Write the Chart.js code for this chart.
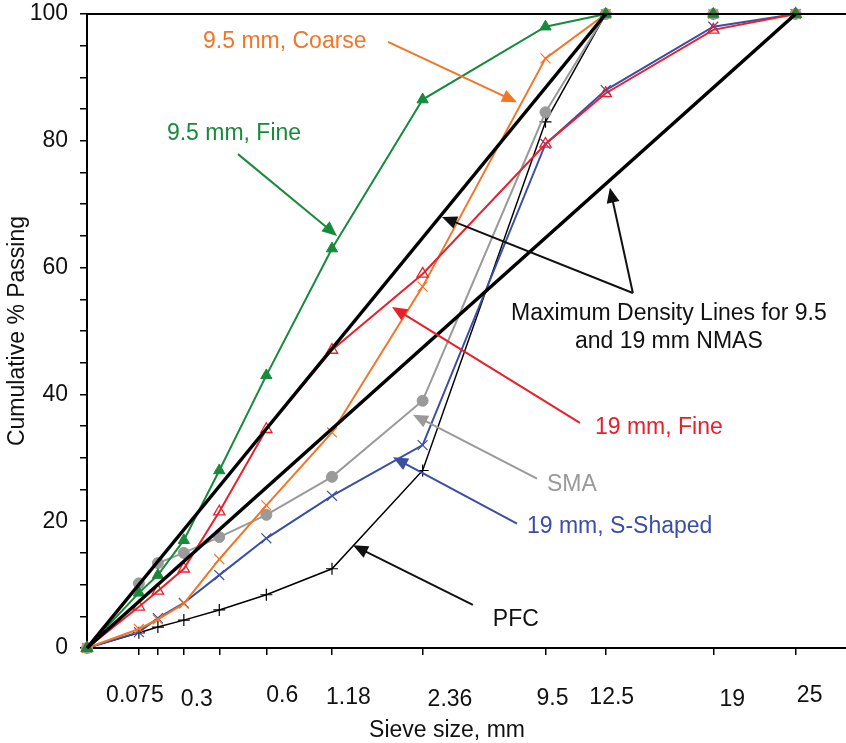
<!DOCTYPE html>
<html>
<head>
<meta charset="utf-8">
<script src="https://cdn.jsdelivr.net/npm/chart.js@4/dist/chart.umd.min.js"></script>
<style>
  html, body { margin: 0; padding: 0; background: #fff; }
  #wrap { width: 846px; height: 743px; }
</style>
</head>
<body>
<div id="wrap"><canvas id="gradation"></canvas></div>
<script>
// sieve sizes (mm) and % passing for each gradation
const sieveMm = [0, 0.075, 0.15, 0.3, 0.6, 1.18, 2.36, 4.75, 9.5, 12.5, 19, 25];
const fine95 = [0, 8.7, 11.5, 17, 28, 43, 63, 86.5, 98, 100, 100, 100];
const coarse95 = [0, 3, 4.5, 7, 14, 22.5, 34, 57, 93, 100, 100, 100];
const fine19 = [0, 6.5, 9, 12.5, 21.5, 34.5, 47, 59, 79.5, 87.5, 97.5, 100];
const sma = [0, 10.2, 13.4, 15, 17.5, 21, 27, 39, 84.5, 100, 100, 100];
const sShaped19 = [0, 2.5, 4.7, 7.1, 11.5, 17.3, 24, 32, 79.5, 88, 98, 100];
const pfc = [0, 2.4, 3.3, 4.4, 6, 8.4, 12.5, 28, 83, 100, 100, 100];

// maximum density lines (0.45 power)
const maxDens95Mm = [0, 12.5];
const maxDens19Mm = [0, 25];
const maxDensPassing = [0, 100];

// x tick labels (mm) shown under the axis
const xTickLabels = ['0.075', '0.3', '0.6', '1.18', '2.36', '9.5', '12.5', '19', '25'];
const xTickLabelMm = [0.075, 0.3, 0.6, 1.18, 2.36, 9.5, 12.5, 19, 25];
// label placement (px offset from its tick), as in the original figure
const xLabelShift = [-4, 13, 63, 82, 118, 7, 6, 19, 14];
const xLabelDrop = [0, 4, 0, 2, 4, 3, 2, 4, 0];

const POW = 0.45;
const xAxisMax = 4.51; // in sieve^0.45 units
const toX = mm => Math.pow(mm, POW);
const pts = (mm, ys) => mm.map((s, i) => ({ x: toX(s), y: ys[i] }));

const FONT = "'Liberation Sans', Arial, sans-serif";
const ORANGE = '#f37526';
const GREEN = '#178a3b';
const RED = '#e8202c';
const GRAY = '#9a9a9a';
const BLUE = '#3a4ea6';

// annotation texts and arrows, x in sieve^0.45 units, y in % passing
const notes = [
  { text: ['9.5 mm, Coarse'], color: ORANGE, x: 0.697, y: 95.7, align: 'left',
    arrows: [[1.808, 95.6, 2.583, 86.1]] },
  { text: ['9.5 mm, Fine'], color: GREEN, x: 0.48, y: 81.1, align: 'left',
    arrows: [[0.907, 77.9, 1.502, 65.0]] },
  { text: ['Maximum Density Lines for 9.5', 'and 19 mm NMAS'], color: '#111', x: 3.495, y: 52.8, align: 'center',
    arrows: [[3.279, 56.0, 2.132, 68.0], [3.279, 56.0, 3.141, 72.6]] },
  { text: ['19 mm, Fine'], color: RED, x: 3.051, y: 34.7, align: 'left',
    arrows: [[2.961, 35.5, 1.832, 53.8]] },
  { text: ['SMA'], color: GRAY, x: 2.763, y: 25.7, align: 'left',
    arrows: [[2.703, 26.7, 1.958, 36.8]] },
  { text: ['19 mm, S-Shaped'], color: BLUE, x: 2.643, y: 19.2, align: 'left',
    arrows: [[2.583, 19.6, 1.838, 30.1]] },
  { text: ['PFC'], color: '#111', x: 2.438, y: 4.4, align: 'left',
    arrows: [[2.318, 6.8, 1.598, 16.2]] }
];

function arrow(ctx, x1, y1, x2, y2, color) {
  const ang = Math.atan2(y2 - y1, x2 - x1);
  const len = 15, half = 6.5;
  ctx.strokeStyle = color;
  ctx.fillStyle = color;
  ctx.lineWidth = 2;
  ctx.beginPath();
  ctx.moveTo(x1, y1);
  ctx.lineTo(x2 - Math.cos(ang) * len * 0.8, y2 - Math.sin(ang) * len * 0.8);
  ctx.stroke();
  ctx.beginPath();
  ctx.moveTo(x2, y2);
  ctx.lineTo(x2 - Math.cos(ang) * len - Math.sin(ang) * half, y2 - Math.sin(ang) * len + Math.cos(ang) * half);
  ctx.lineTo(x2 - Math.cos(ang) * len + Math.sin(ang) * half, y2 - Math.sin(ang) * len - Math.cos(ang) * half);
  ctx.closePath();
  ctx.fill();
}

const extras = {
  id: 'extras',
  afterDraw(chart) {
    const ctx = chart.ctx;
    const a = chart.chartArea;
    const xs = chart.scales.x, ys = chart.scales.y;
    ctx.save();
    // top frame line, and both horizontal lines run to the page edge
    ctx.strokeStyle = '#000';
    ctx.lineWidth = 2;
    ctx.beginPath();
    ctx.moveTo(a.left - 1, a.top);
    ctx.lineTo(chart.width, a.top);
    ctx.moveTo(a.right - 1, a.bottom);
    ctx.lineTo(chart.width, a.bottom);
    ctx.stroke();

    // x tick labels and axis title
    ctx.fillStyle = '#111';
    ctx.font = '23px ' + FONT;
    ctx.textAlign = 'center';
    ctx.textBaseline = 'middle';
    xTickLabels.forEach((t, i) => {
      const px = xs.getPixelForValue(toX(xTickLabelMm[i])) + xLabelShift[i];
      ctx.fillText(t, px, a.bottom + 48 + xLabelDrop[i]);
    });
    ctx.fillText('Sieve size, mm', a.left + 360, a.bottom + 83);

    // annotations
    notes.forEach(n => {
      n.arrows.forEach(r => {
        arrow(ctx, xs.getPixelForValue(r[0]), ys.getPixelForValue(r[1]),
          xs.getPixelForValue(r[2]), ys.getPixelForValue(r[3]), n.color);
      });
      ctx.fillStyle = n.color;
      ctx.textAlign = n.align;
      n.text.forEach((t, k) => {
        ctx.fillText(t, xs.getPixelForValue(n.x), ys.getPixelForValue(n.y) + k * 28);
      });
    });
    ctx.restore();
  }
};

Chart.defaults.font.family = FONT;
Chart.defaults.color = '#111';

new Chart(document.getElementById('gradation'), {
  type: 'scatter',
  data: {
    datasets: [
      { label: 'Max density 9.5', data: pts(maxDens95Mm, maxDensPassing), borderColor: '#000', borderWidth: 3.5, pointRadius: 0 },
      { label: 'Max density 19', data: pts(maxDens19Mm, maxDensPassing), borderColor: '#000', borderWidth: 3.5, pointRadius: 0 },
      { label: '9.5 mm, Fine', data: pts(sieveMm, fine95), borderColor: GREEN, backgroundColor: GREEN,
        borderWidth: 2, pointStyle: 'triangle', pointRadius: 6.5, pointBorderWidth: 1 },
      { label: '19 mm, Fine', data: pts(sieveMm, fine19), borderColor: RED, backgroundColor: 'rgba(255,255,255,0)',
        borderWidth: 2, pointStyle: 'triangle', pointRadius: 6.5, pointBorderWidth: 1.3 },
      { label: '9.5 mm, Coarse', data: pts(sieveMm, coarse95), borderColor: ORANGE, backgroundColor: ORANGE,
        borderWidth: 2, pointStyle: 'crossRot', pointRadius: 7, pointBorderWidth: 1.2 },
      { label: 'SMA', data: pts(sieveMm, sma), borderColor: GRAY, backgroundColor: GRAY,
        borderWidth: 2, pointStyle: 'circle', pointRadius: 5.5, pointBorderWidth: 1 },
      { label: '19 mm, S-Shaped', data: pts(sieveMm, sShaped19), borderColor: BLUE, backgroundColor: BLUE,
        borderWidth: 2, pointStyle: 'crossRot', pointRadius: 7, pointBorderWidth: 1.2 },
      { label: 'PFC', data: pts(sieveMm, pfc), borderColor: '#000', backgroundColor: '#000',
        borderWidth: 1.5, pointStyle: 'cross', pointRadius: 6, pointBorderWidth: 1.2 }
    ].map(d => Object.assign({ showLine: true, tension: 0, clip: false }, d))
  },
  options: {
    responsive: true,
    maintainAspectRatio: false,
    animation: false,
    layout: { padding: { top: 14, right: 0, bottom: 0, left: 0 } },
    plugins: {
      legend: { display: false },
      tooltip: { enabled: false }
    },
    scales: {
      x: {
        type: 'linear',
        min: 0,
        max: xAxisMax,
        afterBuildTicks: scale => {
          scale.ticks = sieveMm.filter(s => s > 0).map(s => ({ value: toX(s) }));
        },
        afterFit: scale => {
          scale.height = 95;
          scale.paddingLeft = 0;
          scale.paddingRight = 0;
        },
        ticks: { display: false },
        grid: { drawOnChartArea: false, drawTicks: true, tickLength: 7, color: '#000', lineWidth: 1.5 },
        border: { display: true, color: '#000', width: 2 }
      },
      y: {
        min: 0,
        max: 100,
        afterFit: scale => {
          scale.width = 87;
          scale.paddingTop = 0;
          scale.paddingBottom = 0;
        },
        ticks: {
          stepSize: 5,
          padding: 12,
          font: { size: 23 },
          color: '#111',
          callback: v => (v % 20 === 0 ? v : '')
        },
        grid: { drawOnChartArea: false, drawTicks: true, tickLength: 7, color: '#000', lineWidth: 1.5 },
        border: { display: true, color: '#000', width: 2 },
        title: {
          display: true,
          text: 'Cumulative % Passing',
          font: { size: 23 },
          color: '#111',
          padding: { top: 4, bottom: 0 }
        }
      }
    }
  },
  plugins: [extras]
});
</script>
</body>
</html>
